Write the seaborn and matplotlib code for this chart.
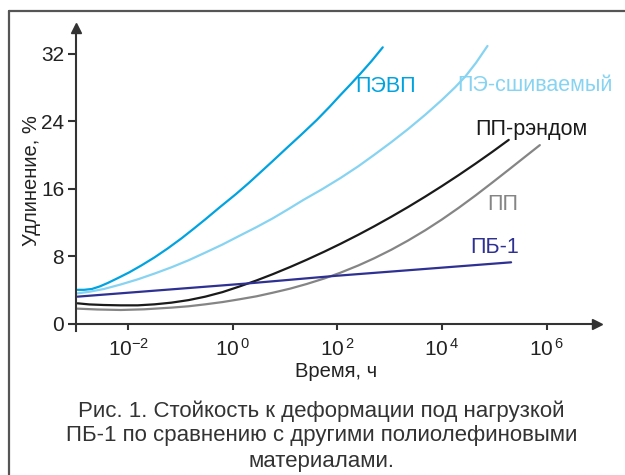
import numpy as np
import pandas as pd
import matplotlib
matplotlib.use("Agg")
import matplotlib.pyplot as plt
from matplotlib.lines import Line2D
import seaborn as sns

# Elongation (%) versus log10 of time (h) for each material
pevp_exp = [-2.975, -2.85, -2.70, -2.55, -2.40, -2.20, -1.985, -1.75, -1.50, -1.25, -0.983,
            -0.75, -0.53, -0.25, 0.052, 0.30, 0.505, 0.75, 1.022, 1.30, 1.604, 1.85, 2.057,
            2.25, 2.445, 2.65, 2.866]
pevp_val = [4.05, 4.05, 4.15, 4.45, 4.85, 5.45, 6.12, 6.95, 7.90, 8.95, 10.16,
            11.30, 12.40, 13.85, 15.37, 16.70, 17.86, 19.25, 20.82, 22.40, 24.18, 25.75, 27.14,
            28.40, 29.71, 31.15, 32.79]

pex_exp = [-2.975, -2.75, -2.47, -2.15, -1.823, -1.50, -1.177, -0.85, -0.53, -0.20, 0.117,
           0.45, 0.764, 1.05, 1.346, 1.70, 2.057, 2.40, 2.703, 3.03, 3.35, 3.68, 3.997,
           4.25, 4.449, 4.65, 4.87]
pex_val = [3.63, 3.82, 4.15, 4.68, 5.29, 5.98, 6.72, 7.55, 8.46, 9.42, 10.43,
           11.48, 12.53, 13.58, 14.70, 15.95, 17.30, 18.70, 20.05, 21.55, 23.10, 24.80, 26.55,
           28.05, 29.35, 30.95, 32.95]

pprc_exp = [-2.975, -2.75, -2.47, -2.15, -1.823, -1.50, -1.177, -0.85, -0.53, -0.20, 0.117,
            0.45, 0.764, 1.10, 1.41, 1.75, 2.057, 2.40, 2.703, 3.03, 3.35, 3.68, 3.997,
            4.32, 4.643, 4.96, 5.277]
pprc_val = [2.45, 2.32, 2.25, 2.21, 2.21, 2.33, 2.53, 2.83, 3.24, 3.78, 4.43,
            5.16, 5.91, 6.77, 7.61, 8.58, 9.50, 10.58, 11.58, 12.71, 13.86, 15.10, 16.34,
            17.65, 19.01, 20.39, 21.82]

pp_exp = [-2.975, -2.60, -2.146, -1.70, -1.177, -0.85, -0.53, -0.20, 0.117, 0.45, 0.764,
          1.10, 1.41, 1.75, 2.057, 2.40, 2.703, 3.03, 3.35, 3.68, 3.997, 4.32, 4.643,
          4.96, 5.29, 5.60, 5.872]
pp_val = [1.82, 1.72, 1.66, 1.74, 1.94, 2.10, 2.33, 2.60, 2.92, 3.28, 3.71,
          4.20, 4.74, 5.40, 6.08, 6.94, 7.79, 8.80, 9.89, 11.11, 12.38, 13.77, 15.24,
          16.75, 18.35, 19.87, 21.20]

pb1_exp = [-2.975, 0.31, 1.93, 5.322]
pb1_val = [3.24, 4.82, 5.69, 7.31]

materials = ["ПЭВП", "ПЭ-сшиваемый", "ПП-рэндом", "ПП", "ПБ-1"]
colors = ["#00a3e0", "#86d3f2", "#1a1a1a", "#858585", "#2e3192"]

y_ticks = [0, 8, 16, 24, 32]
x_tick_exp = [-2, 0, 2, 4, 6]
x_tick_labels = [r"$10^{-2}$", r"$10^{\,0}$", r"$10^{\,2}$", r"$10^{\,4}$", r"$10^{\,6}$"]

caption_lines = ["Рис. 1. Стойкость к деформации под нагрузкой",
                 "ПБ-1 по сравнению с другими полиолефиновыми",
                 "материалами."]

series = [(pevp_exp, pevp_val), (pex_exp, pex_val), (pprc_exp, pprc_val),
          (pp_exp, pp_val), (pb1_exp, pb1_val)]
frames = []
for name, (ex, val) in zip(materials, series):
    frames.append(pd.DataFrame({"time": 10.0 ** np.array(ex), "elong": val,
                                "material": name}))
df = pd.concat(frames, ignore_index=True)

sns.set_style("white")
plt.rcParams["font.family"] = ["Liberation Sans", "DejaVu Sans"]
plt.rcParams["mathtext.fontset"] = "custom"
plt.rcParams["mathtext.rm"] = "Liberation Sans"
plt.rcParams["mathtext.it"] = "Liberation Sans:italic"
plt.rcParams["mathtext.bf"] = "Liberation Sans:bold"

ink = "#333333"
fig = plt.figure(figsize=(6.25, 4.75), dpi=100)
ax = fig.add_axes([0.1216, 0.3037, 0.8336, 0.6395])

palette = dict(zip(materials, colors))
sns.lineplot(data=df, x="time", y="elong", hue="material", hue_order=materials,
             palette=palette, linewidth=1.6, legend=False, ax=ax, sort=False)

ax.set_xscale("log")
ax.set_xlim(10 ** -3.004, 10 ** 6.966)
ax.set_ylim(-0.8, 35.2)

for s in ("top", "right"):
    ax.spines[s].set_visible(False)
ax.spines["bottom"].set_position(("data", 0))
for s in ("left", "bottom"):
    ax.spines[s].set_color(ink)
    ax.spines[s].set_linewidth(1.5)

ax.set_yticks(y_ticks)
ax.set_yticklabels([str(v) for v in y_ticks])
ax.set_xticks([10.0 ** e for e in x_tick_exp])
ax.set_xticklabels(x_tick_labels)
ax.xaxis.set_minor_locator(matplotlib.ticker.NullLocator())
ax.tick_params(axis="both", which="major", bottom=True, left=True, direction="out",
               width=1.5, color=ink, labelcolor="#222222", labelsize=15)
ax.tick_params(axis="x", length=4.5, pad=5.5)
ax.tick_params(axis="y", length=6, pad=2.5)

# axis arrowheads
ax.plot(1.0, 0, marker=">", color=ink, markersize=7, clip_on=False,
        transform=ax.get_yaxis_transform())
ax.plot(0.0, 0.995, marker="^", color=ink, markersize=7, clip_on=False,
        transform=ax.transAxes)

ax.set_xlabel("Время, ч", fontsize=14.5, color="#222222")
ax.set_ylabel("Удлинение, %", fontsize=14.5, color="#222222")
ax.xaxis.set_label_coords(0.5, -0.102)
ax.yaxis.set_label_coords(-0.067, 0.495)

# curve names
label_pos = {"ПЭВП": (2.335, 28.2), "ПЭ-сшиваемый": (4.287, 28.3),
             "ПП-рэндом": (4.63, 23.05), "ПП": (4.86, 14.2), "ПБ-1": (4.535, 9.07)}
for name, c in zip(materials, colors):
    ex, yv = label_pos[name]
    ax.text(10 ** ex, yv, name, color=c, fontsize=15.5, ha="left", va="center")

# caption, one line at a time
for line, ypix in zip(caption_lines, [411, 436, 461]):
    fig.text(0.514, 1 - ypix / 475, line, ha="center", va="center",
             fontsize=16, color=ink)

# open frame around the figure
fig.add_artist(Line2D([9 / 625, 1.0], [1 - 11 / 475, 1 - 11 / 475],
                      color="#555555", linewidth=1.6))
fig.add_artist(Line2D([9 / 625, 9 / 625], [0.0, 1 - 11 / 475],
                      color="#555555", linewidth=1.6))

fig.savefig("out.png", dpi=100)
